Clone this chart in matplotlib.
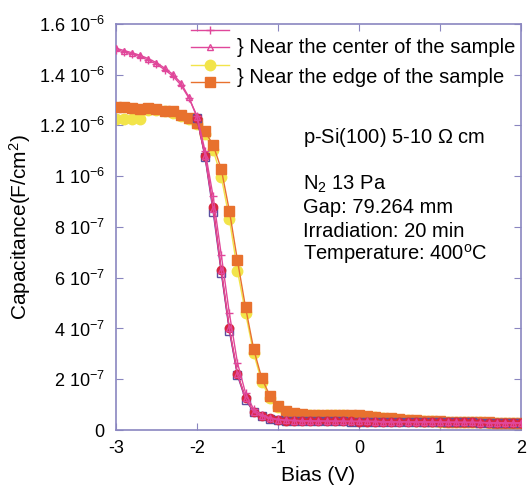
import numpy as np
import matplotlib.pyplot as plt
from matplotlib.lines import Line2D

plt.rcParams['font.family'] = ['Liberation Sans', 'DejaVu Sans']
plt.rcParams['font.size'] = 14.5
plt.rcParams['mathtext.fontset'] = 'custom'
plt.rcParams['mathtext.rm'] = 'Liberation Sans'
plt.rcParams['mathtext.it'] = 'Liberation Sans'

# === data (bias in V, capacitance in 1e-6 F/cm2) ===
bias = [-3.0, -2.9, -2.8, -2.7, -2.6, -2.5, -2.4, -2.3, -2.2, -2.1,
        -2.0, -1.9, -1.8, -1.7, -1.6, -1.5, -1.4, -1.3, -1.2, -1.1,
        -1.0, -0.9, -0.8, -0.7, -0.6, -0.5, -0.4, -0.3, -0.2, -0.1,
        0.0, 0.1, 0.2, 0.3, 0.4, 0.5, 0.6, 0.7, 0.8, 0.9,
        1.0, 1.1, 1.2, 1.3, 1.4, 1.5, 1.6, 1.7, 1.8, 1.9, 2.0]

center_tri = [1.504, 1.495, 1.486, 1.476, 1.463, 1.447, 1.426, 1.402, 1.368, 1.312,
              1.232, 1.080, 0.870, 0.630, 0.400, 0.220, 0.125, 0.072, 0.056, 0.046,
              0.041, 0.038, 0.037, 0.036, 0.036, 0.035, 0.035, 0.035, 0.034, 0.034,
              0.034, 0.034, 0.033, 0.033, 0.033, 0.033, 0.032, 0.032, 0.032, 0.031,
              0.031, 0.031, 0.030, 0.030, 0.030, 0.029, 0.029, 0.029, 0.028, 0.028, 0.028]

center_plus = [1.498, 1.490, 1.481, 1.470, 1.457, 1.441, 1.420, 1.395, 1.360, 1.308,
               1.238, 1.100, 0.920, 0.690, 0.460, 0.265, 0.145, 0.082, 0.060, 0.048,
               0.042, 0.039, 0.038, 0.037, 0.036, 0.036, 0.035, 0.035, 0.035, 0.034,
               0.034, 0.034, 0.034, 0.033, 0.033, 0.033, 0.033, 0.032, 0.032, 0.032,
               0.031, 0.031, 0.031, 0.030, 0.030, 0.030, 0.029, 0.029, 0.029, 0.028, 0.028]

bias_b = bias[10:]
center_circ = [1.230, 1.080, 0.880, 0.630, 0.400, 0.222, 0.125, 0.072, 0.056, 0.046,
               0.040, 0.037, 0.036, 0.035, 0.035, 0.035, 0.034, 0.034, 0.034, 0.034,
               0.033, 0.033, 0.033, 0.033, 0.032, 0.032, 0.032, 0.032, 0.031, 0.031,
               0.031, 0.031, 0.030, 0.030, 0.030, 0.029, 0.029, 0.029, 0.028, 0.028, 0.028]
center_sq = [1.230, 1.075, 0.860, 0.620, 0.390, 0.215, 0.120, 0.070, 0.055, 0.045,
             0.040, 0.037, 0.036, 0.035, 0.035, 0.034, 0.034, 0.034, 0.034, 0.033,
             0.033, 0.033, 0.033, 0.032, 0.032, 0.032, 0.032, 0.031, 0.031, 0.031,
             0.031, 0.030, 0.030, 0.030, 0.030, 0.029, 0.029, 0.029, 0.028, 0.028, 0.028]

edge_sq = [1.274, 1.272, 1.268, 1.264, 1.269, 1.264, 1.258, 1.255, 1.241, 1.228,
           1.209, 1.176, 1.123, 1.028, 0.864, 0.668, 0.483, 0.319, 0.204, 0.135,
           0.095, 0.076, 0.066, 0.063, 0.061, 0.060, 0.060, 0.060, 0.060, 0.059,
           0.058, 0.055, 0.052, 0.049, 0.046, 0.043, 0.041, 0.039, 0.037, 0.035,
           0.034, 0.033, 0.033, 0.032, 0.031, 0.031, 0.030, 0.029, 0.029, 0.028, 0.027]

edge_circ = [1.225, 1.225, 1.225, 1.225, 1.262, 1.260, 1.255, 1.250, 1.237, 1.224,
             1.205, 1.165, 1.103, 0.998, 0.832, 0.628, 0.460, 0.302, 0.190, 0.125,
             0.090, 0.072, 0.063, 0.060, 0.058, 0.058, 0.058, 0.058, 0.058, 0.057,
             0.056, 0.053, 0.050, 0.047, 0.044, 0.041, 0.039, 0.037, 0.035, 0.034,
             0.033, 0.032, 0.032, 0.031, 0.030, 0.030, 0.029, 0.028, 0.028, 0.027, 0.026]

yticks = [0, 0.2, 0.4, 0.6, 0.8, 1.0, 1.2, 1.4, 1.6]
ytick_labels = ['0', r'2 10$^{\mathregular{-7}}$', r'4 10$^{\mathregular{-7}}$',
                r'6 10$^{\mathregular{-7}}$', r'8 10$^{\mathregular{-7}}$',
                r'1 10$^{\mathregular{-6}}$', r'1.2 10$^{\mathregular{-6}}$',
                r'1.4 10$^{\mathregular{-6}}$', r'1.6 10$^{\mathregular{-6}}$']
xticks = [-3, -2, -1, 0, 1, 2]

pink = '#e0479a'
yellow = '#f2e44a'
orange = '#e8712e'
blue = '#5a4fa0'
red = '#d8253f'
axcol = '#8a86c0'

fig = plt.figure(figsize=(5.27, 4.87), dpi=100)
ax = fig.add_axes([0.220, 0.117, 0.7686, 0.834])

ax.plot(bias, edge_circ, color=yellow, lw=1.0, marker='o', ms=7.5, mec=yellow, mfc=yellow, zorder=2)
ax.plot(bias, edge_sq, color=orange, lw=1.0, marker='s', ms=7.5, mec=orange, mfc=orange, zorder=3)
ax.plot(bias_b, center_sq, color=blue, lw=1.0, marker='s', ms=6, mfc='none', mec=blue, mew=1.0, zorder=4)
ax.plot(bias_b, center_circ, color=red, lw=1.0, marker='o', ms=6, mec=red, mfc=red, zorder=5)
ax.plot(bias, center_plus, color=pink, lw=1.0, marker='+', ms=6, mew=1.0, zorder=6)
ax.plot(bias, center_tri, color=pink, lw=1.0, marker='^', ms=4.5, mfc='none', mec=pink, mew=1.0, zorder=6)

ax.set_xlim(-3, 2)
ax.set_ylim(0, 1.6)
ax.set_xticks(xticks)
ax.set_xticklabels([str(t) for t in xticks])
ax.set_yticks(yticks)
ax.set_yticklabels(ytick_labels)
ax.tick_params(direction='in', length=5, color=axcol, top=True, right=True, labelsize=13)
ax.tick_params(axis='y', pad=8)
ax.tick_params(axis='x', pad=7)
for s in ax.spines.values():
    s.set_color(axcol)
    s.set_linewidth(1.2)

ax.set_xlabel('Bias (V)', fontsize=15, labelpad=7)
ax.set_ylabel(r'Capacitance(F/cm$^{\mathregular{2}}$)', fontsize=15, labelpad=4)

# legend with braces
handles = [
    Line2D([], [], color=pink, lw=1.0, marker='+', ms=6),
    Line2D([], [], color=pink, lw=1.0, marker='^', ms=4.5, mfc='none', mec=pink),
    Line2D([], [], color=yellow, lw=1.0, marker='o', ms=7.5),
    Line2D([], [], color=orange, lw=1.0, marker='s', ms=7.5),
]
ax.legend(handles, ['', '', '', ''], loc='upper left', bbox_to_anchor=(0.185, 1.001),
          frameon=False, fontsize=10, handlelength=2.75, labelspacing=0.26,
          handletextpad=0.0, borderpad=0.0, borderaxespad=0.0)
ax.text(0.298, 0.928, '} Near the center of the sample', transform=ax.transAxes, va='baseline')
ax.text(0.298, 0.854, '} Near the edge of the sample', transform=ax.transAxes, va='baseline')

ax.text(0.4625, 0.706, r'p-Si(100) 5-10 $\Omega$ cm', transform=ax.transAxes, va='baseline')
ax.text(0.4625, 0.591, r'N$_{\mathregular{2}}$ 13 Pa', transform=ax.transAxes, va='baseline')
ax.text(0.4625, 0.534, 'Gap: 79.264 mm', transform=ax.transAxes, va='baseline')
ax.text(0.4625, 0.476, 'Irradiation: 20 min', transform=ax.transAxes, va='baseline')
ax.text(0.4625, 0.419, r'Temperature: 400$^{\mathregular{o}}$C', transform=ax.transAxes, va='baseline')

fig.savefig('out.png', dpi=100)
